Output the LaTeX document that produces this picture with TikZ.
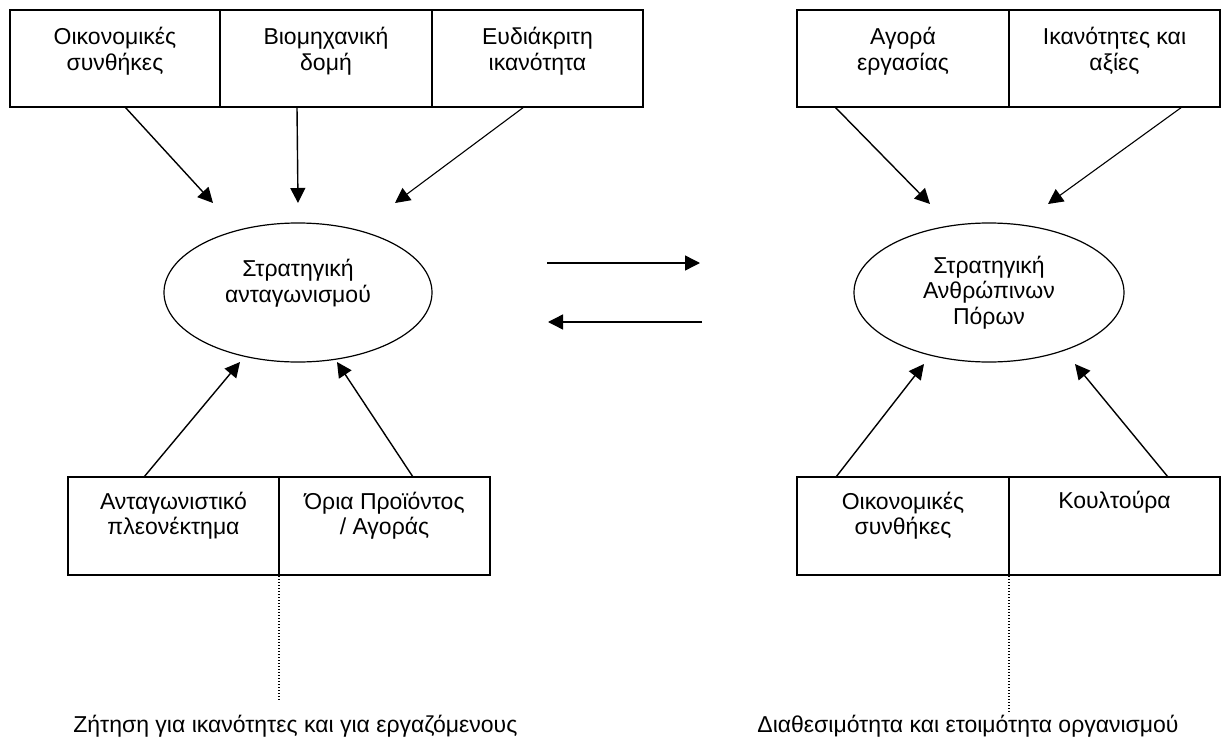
\documentclass[tikz,border=0pt]{standalone}
\usepackage{fontspec}
\setmainfont{Liberation Sans}
\usetikzlibrary{arrows.meta,shapes.geometric}
\begin{document}
\begin{tikzpicture}[x=0.5pt,y=-0.5pt,
  box/.style={draw, line width=0.7pt, inner sep=0pt, minimum width=105.5pt, minimum height=48.5pt},
  lbl/.style={inner sep=0pt, align=center, font=\fontsize{11.5}{12.75}\selectfont},
  ell/.style={draw, ellipse, line width=0.6pt, inner sep=0pt, minimum width=134pt, minimum height=69.5pt},
  arr/.style={line width=0.7pt, -{Triangle[length=7.5pt,width=7.5pt]}},
  arrthin/.style={line width=0.55pt, -{Triangle[length=7.5pt,width=7.5pt]}},
  midarr/.style={line width=0.7pt, -{Triangle[length=7.5pt,width=7.5pt]}},
  dots/.style={line width=0.55pt, dash pattern=on 0.5pt off 1pt}]
\useasboundingbox (0,0) rectangle (1223,739);
% top-left boxes
\node[box, minimum width=105pt] (b1) at (115,58.5) {};
\node[box, minimum width=106pt] (b2) at (326,58.5) {};
\node[box] (b3) at (537.5,58.5) {};
\node[lbl] (b1t) at (115,51) {Οικονομικές\\συνθήκες};
\node[lbl] (b2t) at (326,51) {Βιομηχανική\\δομή};
\node[lbl] (b3t) at (537.5,51) {Ευδιάκριτη\\ικανότητα};
% top-right boxes
\node[box, minimum width=106pt] (r1) at (903,58.5) {};
\node[box] (r2) at (1114.5,58.5) {};
\node[lbl] (r1t) at (903,51) {Αγορά\\εργασίας};
\node[lbl] (r2t) at (1114.5,51) {Ικανότητες και\\αξίες};
% ellipses
\node[ell] (e1) at (298,292.5) {};
\node[ell, minimum width=135pt] (e2) at (989,292.5) {};
\node[lbl] (e1t) at (298,283) {Στρατηγική\\ανταγωνισμού};
\node[lbl] (e2t) at (989,292.6) {Στρατηγική\\Ανθρώπινων\\Πόρων};
% bottom-left boxes
\node[box, minimum height=49pt] (c1) at (173.5,526) {};
\node[box, minimum height=49pt] (c2) at (384.5,526) {};
\node[lbl] (c1t) at (173.5,515.6) {Ανταγωνιστικό\\πλεονέκτημα};
\node[lbl] (c2t) at (384.5,515.6) {Όρια Προϊόντος\\/ Αγοράς};
% bottom-right boxes
\node[box, minimum width=106pt, minimum height=49pt] (d1) at (903,526) {};
\node[box, minimum height=49pt] (d2) at (1114.5,526) {};
\node[lbl] (d1t) at (903,515.6) {Οικονομικές\\συνθήκες};
\node[lbl] (d2t) at (1114.5,502.6) {Κουλτούρα};
% bottom texts
\node[lbl, anchor=base west] (t1) at (73,732) {Ζήτηση για ικανότητες και για εργαζόμενους};
\node[lbl, anchor=base west] (t2) at (757,732) {Διαθεσιμότητα και ετοιμότητα οργανισμού};
% arrow end points
\coordinate (a1s) at (125,107); \coordinate (a1e) at (213,203);
\coordinate (a2s) at (297,107); \coordinate (a2e) at (298,203);
\coordinate (a3s) at (524,107); \coordinate (a3e) at (395,203);
\coordinate (a4s) at (835,107); \coordinate (a4e) at (930,204);
\coordinate (a5s) at (1182,107); \coordinate (a5e) at (1048,204);
\coordinate (m1s) at (547,263); \coordinate (m1e) at (700,263);
\coordinate (m2s) at (702,322); \coordinate (m2e) at (548,322);
\coordinate (g1s) at (144,477); \coordinate (g1e) at (240,362);
\coordinate (g2s) at (413,477); \coordinate (g2e) at (337,362);
\coordinate (g3s) at (836,477); \coordinate (g3e) at (924,364);
\coordinate (g4s) at (1168,477); \coordinate (g4e) at (1075,364);
\coordinate (p1s) at (279,576); \coordinate (p1e) at (279,700);
\coordinate (p2s) at (1009,576); \coordinate (p2e) at (1009,713);
\draw[arr] (a1s) -- (a1e);
\draw[arr] (a2s) -- (a2e);
\draw[arrthin] (a3s) -- (a3e);
\draw[arr] (a4s) -- (a4e);
\draw[arrthin] (a5s) -- (a5e);
\draw[midarr] (m1s) -- (m1e);
\draw[midarr] (m2s) -- (m2e);
\draw[arr] (g1s) -- (g1e);
\draw[arr] (g2s) -- (g2e);
\draw[arr] (g3s) -- (g3e);
\draw[arr] (g4s) -- (g4e);
\draw[dots] (p1s) -- (p1e);
\draw[dots] (p2s) -- (p2e);
\end{tikzpicture}
\end{document}
